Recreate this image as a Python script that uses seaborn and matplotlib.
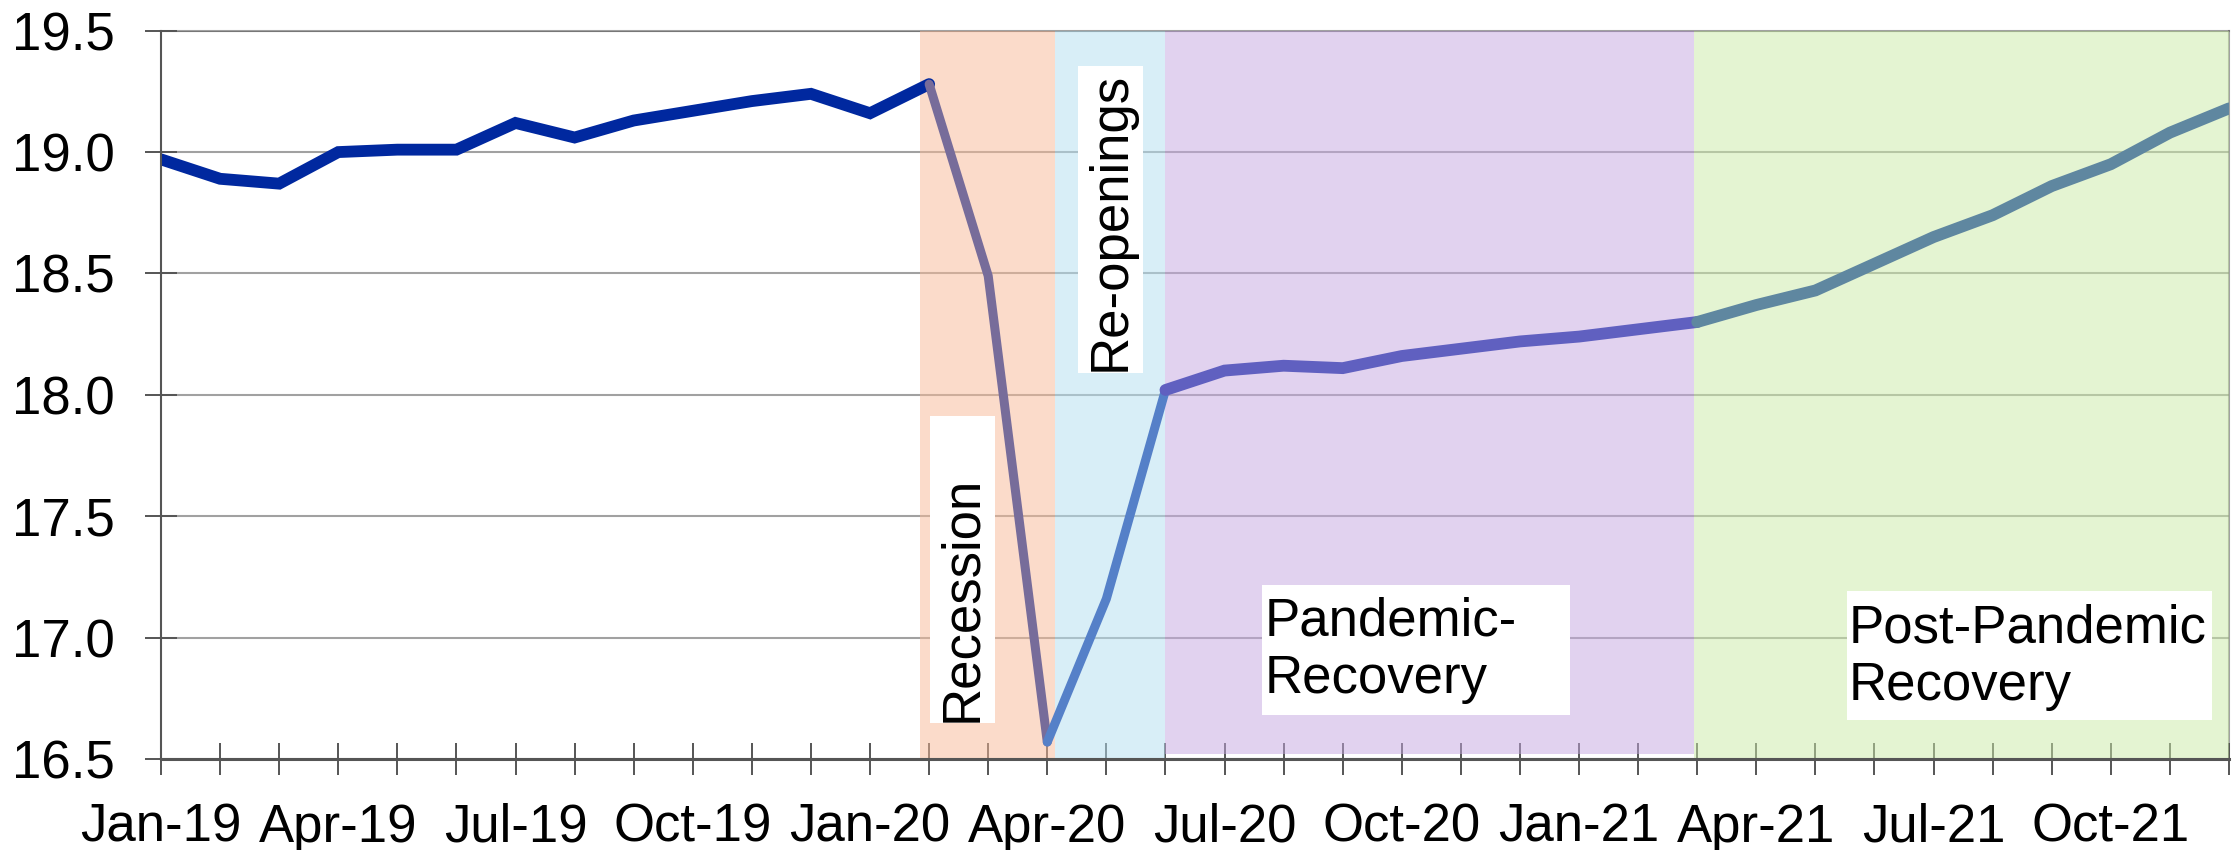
import numpy as np
import pandas as pd
import seaborn as sns
import matplotlib.pyplot as plt
from matplotlib.patches import Rectangle

# monthly values, Jan-2019 .. Dec-2021
months = pd.date_range("2019-01-01", "2021-12-01", freq="MS").strftime("%b-%y").tolist()
values = [18.97, 18.89, 18.87, 19.00, 19.01, 19.01, 19.12, 19.06, 19.13, 19.17, 19.21, 19.24,
          19.16, 19.28, 18.49, 16.57, 17.16, 18.02, 18.10, 18.12, 18.11, 18.16, 18.19, 18.22,
          18.24, 18.27, 18.30, 18.37, 18.43, 18.54, 18.65, 18.74, 18.86, 18.95, 19.08, 19.18]

# line segments (start index, end index) with their colours / widths
segments = [(0, 13), (13, 15), (15, 17), (17, 26), (26, 35)]
seg_colors = ["#00289f", "#776c9a", "#5580c8", "#6060c0", "#5f87a0"]
seg_widths = [8.5, 6.5, 6.5, 8.5, 8.5]

# shaded phases
phase_names = ["Recession", "Re-openings", "Pandemic-\nRecovery", "Post-Pandemic\nRecovery"]
phase_bounds = [(12.84, 15.13), (15.13, 17.0), (17.0, 25.95), (25.95, 35.0)]
phase_colors = ["#f9b997", "#b3dff1", "#c5a7e1", "#cbeba7"]
phase_ymin = [0, 0, 0.007, 0]

sns.set_style("white")
plt.rcParams["font.family"] = ["Liberation Sans", "DejaVu Sans"]
plt.rcParams["text.color"] = "black"

fig = plt.figure(figsize=(22.37, 8.5), dpi=100)
ax = fig.add_axes([161 / 2237, 91 / 850, 2068 / 2237, 728.3 / 850])

for (x0, x1), c, ym in zip(phase_bounds, phase_colors, phase_ymin):
    ax.axvspan(x0, x1, ymin=ym, color=c, alpha=0.5, lw=0, zorder=1)

df = pd.DataFrame({"idx": np.arange(len(values)), "value": values})
for (a, b), c, w in zip(segments, seg_colors, seg_widths):
    sns.lineplot(data=df.iloc[a:b + 1], x="idx", y="value", color=c, ax=ax, zorder=2)
    line = ax.lines[-1]
    line.set_linewidth(w)
    line.set_solid_capstyle("round")
    line.set_solid_joinstyle("miter")

ax.set_xlim(0, 35)
ax.set_ylim(16.5, 19.5)
ax.set_xticks(np.arange(len(months)))
ax.set_xticklabels([m if i % 3 == 0 else "" for i, m in enumerate(months)])
ax.set_yticks(np.arange(16.5, 19.51, 0.5))
ax.yaxis.set_major_formatter("{x:.1f}")
ax.set_xlabel("")
ax.set_ylabel("")
ax.tick_params(axis="both", bottom=True, left=True, direction="inout", length=23, width=1.4,
               color="#555555", labelsize=38, labelcolor="black")
ax.tick_params(axis="x", pad=20)
ax.tick_params(axis="y", pad=21.6)
ax.grid(axis="y", color="#555555", alpha=0.55, lw=1.5)
ax.set_axisbelow(True)

for side in ["left", "bottom"]:
    ax.spines[side].set_color("#555555")
    ax.spines[side].set_zorder(2.5)
ax.spines["left"].set_linewidth(1.5)
ax.spines["bottom"].set_linewidth(2.2)
for side in ["top", "right"]:
    ax.spines[side].set_color("#555555")
    ax.spines[side].set_alpha(0.55)
    ax.spines[side].set_linewidth(1.5)
    ax.spines[side].set_zorder(0.6)

# label boxes
fs = 38
ax.add_patch(Rectangle((13.01, 16.647), 1.10, 1.265, facecolor="white", lw=0, zorder=3))
ax.text(13.56, 17.16, phase_names[0], rotation=90, ha="center", va="center", fontsize=fs, zorder=4)

ax.add_patch(Rectangle((15.52, 18.089), 1.10, 1.266, facecolor="white", lw=0, zorder=3))
ax.text(16.07, 18.716, phase_names[1], rotation=90, ha="center", va="center", fontsize=fs, zorder=4)

ax.add_patch(Rectangle((18.63, 16.683), 5.21, 0.532, facecolor="white", lw=0, zorder=3))
ax.text(18.68, 16.947, phase_names[2], ha="left", va="center", fontsize=fs, zorder=4)

ax.add_patch(Rectangle((28.53, 16.662), 6.19, 0.532, facecolor="white", lw=0, zorder=3))
ax.text(28.56, 16.92, phase_names[3], ha="left", va="center", fontsize=fs, zorder=4)

fig.savefig("out.png", dpi=100)
